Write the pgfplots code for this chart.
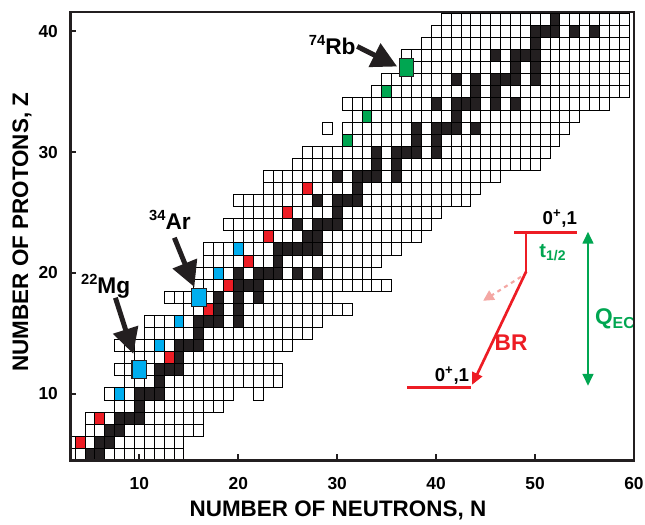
\documentclass[border=0pt]{standalone}
\usepackage{fontspec}
\setmainfont{Liberation Sans}
\usepackage{pgfplots}
\pgfplotsset{compat=1.18}
\usetikzlibrary{arrows.meta}
\definecolor{nred}{HTML}{ED1C24}
\definecolor{nblue}{HTML}{00AEEF}
\definecolor{ngreen}{HTML}{00A651}
\definecolor{nblack}{HTML}{231F20}
\definecolor{npink}{HTML}{F4A7A3}
\pgfplotsset{
  nuc/.style={only marks, mark=square*, mark size=3.705pt,
    mark options={yscale=1.2214, draw=black, line width=0.55pt, fill=#1}},
  bignuc/.style={only marks, mark=square*, mark size=5.5pt,
    mark options={yscale=1.2214, draw=nblack, line width=0.8pt, fill=#1}},
}
\begin{document}
\begin{tikzpicture}[font=\bfseries]
\begin{axis}[
  x=7.41pt, y=9.05pt,
  xmin=3, xmax=60, ymin=4.5, ymax=41.6,
  axis on top,
  clip marker paths=true,
  axis line style={line width=2.2pt, nblack},
  xtick={10,20,30,40,50,60}, ytick={10,20,30,40},
  xtick pos=bottom, ytick pos=left,
  tick align=inside, major tick length=4.5pt,
  tick style={line width=1.6pt, nblack},
  /pgf/number format/assume math mode=true,
  ticklabel style={font=\bfseries\fontsize{13}{13}\selectfont, inner sep=0pt},
  xticklabel style={anchor=base, yshift=-21.75pt},
  yticklabel style={anchor=east, xshift=-9pt},
  xlabel={NUMBER OF NEUTRONS, N},
  ylabel={NUMBER OF PROTONS, Z},
  xlabel style={at={(axis description cs:0.475,-0.125)}, anchor=base, font=\bfseries\fontsize{16.8}{16.8}\selectfont},
  ylabel style={at={(axis description cs:-0.0745,0.509)}, anchor=base, font=\bfseries\fontsize{16.8}{16.8}\selectfont},
]
% known nuclides (white boxes), one row per Z
\addplot[nuc=white] coordinates {(3,5)(4,5)(5,5)(6,5)(7,5)(8,5)(9,5)(10,5)(11,5)(12,5)(13,5)(14,5)};
\addplot[nuc=white] coordinates {(3,6)(4,6)(5,6)(6,6)(7,6)(8,6)(9,6)(10,6)(11,6)(12,6)(13,6)(14,6)};
\addplot[nuc=white] coordinates {(5,7)(6,7)(7,7)(8,7)(9,7)(10,7)(11,7)(12,7)(13,7)(14,7)(15,7)(16,7)};
\addplot[nuc=white] coordinates {(5,8)(6,8)(7,8)(8,8)(9,8)(10,8)(11,8)(12,8)(13,8)(14,8)(15,8)(16,8)};
\addplot[nuc=white] coordinates {(8,9)(9,9)(10,9)(11,9)(12,9)(13,9)(14,9)(15,9)(16,9)(17,9)(18,9)};
\addplot[nuc=white] coordinates {(7,10)(8,10)(9,10)(10,10)(11,10)(12,10)(13,10)(14,10)(15,10)(16,10)(17,10)(18,10)(19,10)(22,10)};
\addplot[nuc=white] coordinates {(9,11)(10,11)(11,11)(12,11)(13,11)(14,11)(15,11)(16,11)(17,11)(18,11)(19,11)(20,11)(21,11)(22,11)(23,11)(24,11)};
\addplot[nuc=white] coordinates {(8,12)(9,12)(10,12)(11,12)(12,12)(13,12)(14,12)(15,12)(16,12)(17,12)(18,12)(19,12)(20,12)(21,12)(22,12)(23,12)(24,12)};
\addplot[nuc=white] coordinates {(9,13)(10,13)(11,13)(12,13)(13,13)(14,13)(15,13)(16,13)(17,13)(18,13)(19,13)(20,13)(21,13)(22,13)(23,13)};
\addplot[nuc=white] coordinates {(8,14)(9,14)(10,14)(11,14)(12,14)(13,14)(14,14)(15,14)(16,14)(17,14)(18,14)(19,14)(20,14)(21,14)(22,14)(23,14)(24,14)(25,14)};
\addplot[nuc=white] coordinates {(11,15)(12,15)(13,15)(14,15)(15,15)(16,15)(17,15)(18,15)(19,15)(20,15)(21,15)(22,15)(23,15)(24,15)(25,15)(26,15)(27,15)};
\addplot[nuc=white] coordinates {(11,16)(12,16)(13,16)(14,16)(15,16)(16,16)(17,16)(18,16)(19,16)(20,16)(21,16)(22,16)(23,16)(24,16)(25,16)(26,16)(27,16)(28,16)};
\addplot[nuc=white] coordinates {(15,17)(16,17)(17,17)(18,17)(19,17)(20,17)(21,17)(22,17)(23,17)(24,17)(25,17)(26,17)(27,17)(28,17)(29,17)(30,17)(31,17)};
\addplot[nuc=white] coordinates {(13,18)(14,18)(15,18)(16,18)(17,18)(18,18)(19,18)(20,18)(21,18)(22,18)(23,18)(24,18)(25,18)(26,18)(27,18)(28,18)(29,18)};
\addplot[nuc=white] coordinates {(16,19)(17,19)(18,19)(19,19)(20,19)(21,19)(22,19)(23,19)(24,19)(25,19)(26,19)(27,19)(28,19)(29,19)(30,19)(31,19)(32,19)(33,19)(34,19)(35,19)};
\addplot[nuc=white] coordinates {(16,20)(17,20)(18,20)(19,20)(20,20)(21,20)(22,20)(23,20)(24,20)(25,20)(26,20)(27,20)(28,20)(29,20)(30,20)(31,20)(32,20)(33,20)};
\addplot[nuc=white] coordinates {(17,21)(18,21)(19,21)(20,21)(21,21)(22,21)(23,21)(24,21)(25,21)(26,21)(27,21)(28,21)(29,21)(30,21)(31,21)(32,21)(33,21)(34,21)};
\addplot[nuc=white] coordinates {(17,22)(18,22)(19,22)(20,22)(21,22)(22,22)(23,22)(24,22)(25,22)(26,22)(27,22)(28,22)(29,22)(30,22)(31,22)(32,22)(33,22)(34,22)(35,22)(36,22)};
\addplot[nuc=white] coordinates {(20,23)(21,23)(22,23)(23,23)(24,23)(25,23)(26,23)(27,23)(28,23)(29,23)(30,23)(31,23)(32,23)(33,23)(34,23)(35,23)(36,23)(37,23)(38,23)};
\addplot[nuc=white] coordinates {(19,24)(20,24)(21,24)(22,24)(23,24)(24,24)(25,24)(26,24)(27,24)(28,24)(29,24)(30,24)(31,24)(32,24)(33,24)(34,24)(35,24)(36,24)(37,24)(38,24)(39,24)};
\addplot[nuc=white] coordinates {(21,25)(22,25)(23,25)(24,25)(25,25)(26,25)(27,25)(28,25)(29,25)(30,25)(31,25)(32,25)(33,25)(34,25)(35,25)(36,25)(37,25)(38,25)(39,25)(40,25)};
\addplot[nuc=white] coordinates {(20,26)(21,26)(22,26)(23,26)(24,26)(25,26)(26,26)(27,26)(28,26)(29,26)(30,26)(31,26)(32,26)(33,26)(34,26)(35,26)(36,26)(37,26)(38,26)(39,26)(40,26)(41,26)(42,26)(43,26)};
\addplot[nuc=white] coordinates {(23,27)(24,27)(25,27)(26,27)(27,27)(28,27)(29,27)(30,27)(31,27)(32,27)(33,27)(34,27)(35,27)(36,27)(37,27)(38,27)(39,27)(40,27)(41,27)(42,27)(43,27)(44,27)};
\addplot[nuc=white] coordinates {(23,28)(24,28)(25,28)(26,28)(27,28)(28,28)(29,28)(30,28)(31,28)(32,28)(33,28)(34,28)(35,28)(36,28)(37,28)(38,28)(39,28)(40,28)(41,28)(42,28)(43,28)(44,28)(45,28)(46,28)};
\addplot[nuc=white] coordinates {(26,29)(27,29)(28,29)(29,29)(30,29)(31,29)(32,29)(33,29)(34,29)(35,29)(36,29)(37,29)(38,29)(39,29)(40,29)(41,29)(42,29)(43,29)(44,29)(45,29)(46,29)(47,29)(48,29)(49,29)(50,29)};
\addplot[nuc=white] coordinates {(27,30)(28,30)(29,30)(30,30)(31,30)(32,30)(33,30)(34,30)(35,30)(36,30)(37,30)(38,30)(39,30)(40,30)(41,30)(42,30)(43,30)(44,30)(45,30)(46,30)(47,30)(48,30)(49,30)(50,30)(51,30)};
\addplot[nuc=white] coordinates {(31,31)(32,31)(33,31)(34,31)(35,31)(36,31)(37,31)(38,31)(39,31)(40,31)(41,31)(42,31)(43,31)(44,31)(45,31)(46,31)(47,31)(48,31)(49,31)(50,31)(51,31)(52,31)};
\addplot[nuc=white] coordinates {(29,32)(31,32)(32,32)(33,32)(34,32)(35,32)(36,32)(37,32)(38,32)(39,32)(40,32)(41,32)(42,32)(43,32)(44,32)(45,32)(46,32)(47,32)(48,32)(49,32)(50,32)(51,32)(52,32)(53,32)};
\addplot[nuc=white] coordinates {(32,33)(33,33)(34,33)(35,33)(36,33)(37,33)(38,33)(39,33)(40,33)(41,33)(42,33)(43,33)(44,33)(45,33)(46,33)(47,33)(48,33)(49,33)(50,33)(51,33)(52,33)(53,33)(54,33)};
\addplot[nuc=white] coordinates {(31,34)(32,34)(33,34)(34,34)(35,34)(36,34)(37,34)(38,34)(39,34)(40,34)(41,34)(42,34)(43,34)(44,34)(45,34)(46,34)(47,34)(48,34)(49,34)(50,34)(51,34)(52,34)(53,34)(54,34)(55,34)(56,34)(57,34)};
\addplot[nuc=white] coordinates {(34,35)(35,35)(36,35)(37,35)(38,35)(39,35)(40,35)(41,35)(42,35)(43,35)(44,35)(45,35)(46,35)(47,35)(48,35)(49,35)(50,35)(51,35)(52,35)(53,35)(54,35)(55,35)(56,35)(57,35)(58,35)(59,35)};
\addplot[nuc=white] coordinates {(35,36)(36,36)(37,36)(38,36)(39,36)(40,36)(41,36)(42,36)(43,36)(44,36)(45,36)(46,36)(47,36)(48,36)(49,36)(50,36)(51,36)(52,36)(53,36)(54,36)(55,36)(56,36)(57,36)(58,36)(59,36)};
\addplot[nuc=white] coordinates {(37,37)(38,37)(39,37)(40,37)(41,37)(42,37)(43,37)(44,37)(45,37)(46,37)(47,37)(48,37)(49,37)(50,37)(51,37)(52,37)(53,37)(54,37)(55,37)(56,37)(57,37)(58,37)(59,37)};
\addplot[nuc=white] coordinates {(37,38)(38,38)(39,38)(40,38)(41,38)(42,38)(43,38)(44,38)(45,38)(46,38)(47,38)(48,38)(49,38)(50,38)(51,38)(52,38)(53,38)(54,38)(55,38)(56,38)(57,38)(58,38)(59,38)};
\addplot[nuc=white] coordinates {(39,39)(40,39)(41,39)(42,39)(43,39)(44,39)(45,39)(46,39)(47,39)(48,39)(49,39)(50,39)(51,39)(52,39)(53,39)(54,39)(55,39)(56,39)(57,39)(58,39)(59,39)};
\addplot[nuc=white] coordinates {(40,40)(41,40)(42,40)(43,40)(44,40)(45,40)(46,40)(47,40)(48,40)(49,40)(50,40)(51,40)(52,40)(53,40)(54,40)(55,40)(56,40)(57,40)(58,40)(59,40)};
\addplot[nuc=white] coordinates {(41,41)(42,41)(43,41)(44,41)(45,41)(46,41)(47,41)(48,41)(49,41)(50,41)(51,41)(52,41)(53,41)(54,41)(55,41)(56,41)(57,41)(58,41)(59,41)};
% stable nuclides (black)
\addplot[nuc=nblack] coordinates {
(5,5)(6,5)(6,6)(7,6)(7,7)(8,7)(8,8)(9,8)(10,8)(10,9)(10,10)(11,10)(12,10)(12,11)
(12,12)(13,12)(14,12)(14,13)(14,14)(15,14)(16,14)(16,15)(16,16)(17,16)(18,16)(20,16)
(18,17)(20,17)(18,18)(20,18)(22,18)(20,19)(21,19)(22,19)
(20,20)(22,20)(23,20)(24,20)(26,20)(28,20)(24,21)(24,22)(25,22)(26,22)(27,22)(28,22)
(27,23)(28,23)(26,24)(28,24)(29,24)(30,24)(30,25)(28,26)(30,26)(31,26)(32,26)(32,27)
(30,28)(32,28)(33,28)(34,28)(36,28)(34,29)(36,29)(34,30)(36,30)(37,30)(38,30)(40,30)
(38,31)(40,31)(38,32)(40,32)(41,32)(42,32)(44,32)(42,33)
(40,34)(42,34)(43,34)(44,34)(46,34)(48,34)(44,35)(46,35)
(42,36)(44,36)(46,36)(47,36)(48,36)(50,36)(48,37)(50,37)(46,38)(48,38)(49,38)(50,38)
(50,39)(50,40)(51,40)(52,40)(54,40)(56,40)(52,41)};
% superallowed emitters
\addplot[nuc=nred] coordinates {(4,6)(6,8)(13,13)(17,17)(19,19)(21,21)(23,23)(25,25)(27,27)};
\addplot[nuc=nblue] coordinates {(8,10)(12,14)(14,16)(18,20)(20,22)};
\addplot[nuc=ngreen] coordinates {(31,31)(33,33)(35,35)};
\addplot[bignuc=nblue] coordinates {(10,12)(16,18)};
\addplot[bignuc=ngreen] coordinates {(37,37)};
% labels and arrows
\node[font=\bfseries\fontsize{17}{17}\selectfont, inner sep=0pt] at (axis cs:6.6,18.9) {\raisebox{0.42em}{\fontsize{11}{11}\selectfont 22}Mg};
\node[font=\bfseries\fontsize{17}{17}\selectfont, inner sep=0pt] at (axis cs:13.1,24.4) {\raisebox{0.42em}{\fontsize{11}{11}\selectfont 34}Ar};
\node[font=\bfseries\fontsize{17}{17}\selectfont, inner sep=0pt] at (axis cs:29.5,38.85) {\raisebox{0.42em}{\fontsize{11}{11}\selectfont 74}Rb};
\draw[nblack, line width=3.7pt, -{Triangle[length=19pt,width=19pt]}] (axis cs:7.58,17.95) -- (axis cs:9.39,13.31);
\draw[nblack, line width=3.7pt, -{Triangle[length=19pt,width=19pt]}] (axis cs:13.54,22.92) -- (axis cs:15.56,18.84);
\draw[nblack, line width=3.7pt, -{Triangle[length=19pt,width=19pt]}] (axis cs:32.02,38.75) -- (axis cs:36.06,37.09);
% decay scheme inset
\draw[nred, line width=2pt] (axis cs:47.88,23.34) -- (axis cs:54.24,23.34);
\draw[nred, line width=2pt] (axis cs:49.09,23.34) -- (axis cs:49.09,20.11);
\draw[nred, line width=2pt, -{Triangle[length=9pt,width=8pt]}] (axis cs:49.09,20.11) -- (axis cs:43.64,10.75);
\draw[nred, line width=2pt] (axis cs:37.07,10.5) -- (axis cs:43.54,10.5);
\draw[npink, line width=1.6pt, dashed, -{Triangle[length=8pt,width=8pt]}] (axis cs:48.59,19.69) -- (axis cs:44.75,17.7);
\draw[ngreen, line width=1.8pt, {Triangle[length=9pt,width=8pt]}-{Triangle[length=9pt,width=8pt]}] (axis cs:55.35,23.42) -- (axis cs:55.35,10.66);
\node[font=\bfseries\fontsize{14}{14}\selectfont, inner sep=0pt] at (axis cs:52.5,24.5) {0\textsuperscript{+},1};
\node[font=\bfseries\fontsize{14}{14}\selectfont, inner sep=0pt] at (axis cs:41.6,11.5) {0\textsuperscript{+},1};
\node[text=ngreen, font=\bfseries\fontsize{15}{15}\selectfont, inner sep=0pt] at (axis cs:51.8,21.7) {t\textsubscript{1/2}};
\node[text=nred, font=\bfseries\fontsize{17}{17}\selectfont, inner sep=0pt] at (axis cs:47.58,14.23) {BR};
\node[text=ngreen, font=\bfseries\fontsize{17}{17}\selectfont, inner sep=0pt] at (axis cs:58.1,16.2) {Q\textsubscript{EC}};
\coordinate (sw) at (rel axis cs:0,0);
\coordinate (ne) at (rel axis cs:1,1);
\end{axis}
\pgfresetboundingbox
\path ([xshift=-52.5pt,yshift=-48pt]sw) rectangle ([xshift=8.25pt,yshift=9pt]ne);
\end{tikzpicture}
\end{document}
